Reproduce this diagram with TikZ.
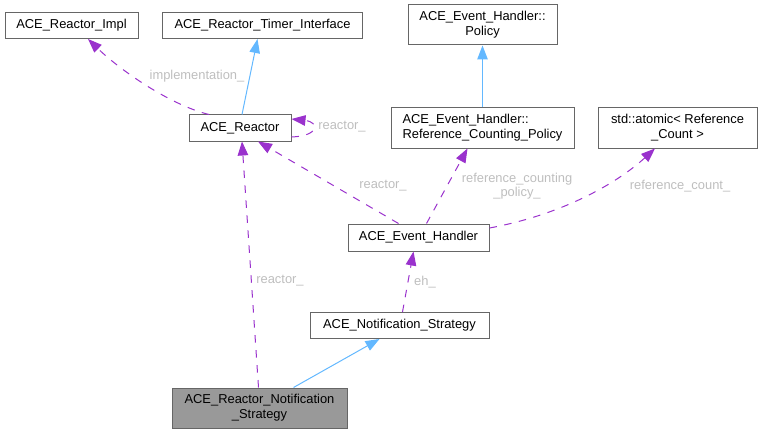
\documentclass[tikz,border=0pt]{standalone}
\usepackage{fontspec}
\setmainfont{Liberation Sans}
\usetikzlibrary{arrows.meta}
\definecolor{edgepurple}{HTML}{9A32CD}
\definecolor{edgeblue}{HTML}{63B8FF}
\definecolor{boxgray}{HTML}{666666}
\definecolor{labelgray}{HTML}{BEBEBE}
\definecolor{fillgray}{HTML}{999999}
\begin{document}
\begin{tikzpicture}[x=1pt,y=-1pt,
  box/.style={draw=boxgray,line width=1pt,fill=white,inner sep=0pt,align=center,
    font=\fontsize{12.9}{15}\selectfont,text=black},
  lbl/.style={inner sep=0pt,align=center,font=\fontsize{12.9}{14}\selectfont,text=labelgray},
  dep/.style={draw=edgepurple,line width=1pt,dash pattern=on 7.5pt off 7.5pt,
    -{Triangle[length=14pt,width=10.5pt]}},
  inh/.style={draw=edgeblue,line width=1pt,-{Triangle[length=14pt,width=10.5pt]}}]
\useasboundingbox (0,0) rectangle (762,433);
% nodes
\node[box,minimum width=133pt,minimum height=26pt] (impl) at (71.5,25.5) {ACE\_Reactor\_Impl};
\node[box,minimum width=200pt,minimum height=26pt] (timer) at (262.5,25.5) {ACE\_Reactor\_Timer\_Interface};
\node[box,minimum width=102pt,minimum height=26pt] (R) at (240,128) {ACE\_Reactor};
\node[box,minimum width=149pt,minimum height=40pt] (policy) at (482.5,25) {ACE\_Event\_Handler::\\Policy};
\node[box,minimum width=183pt,minimum height=40pt,align=left] (RCP) at (482.5,128) {ACE\_Event\_Handler::\\Reference\_Counting\_Policy};
\node[box,minimum width=159pt,minimum height=40pt] (atomic) at (677.5,128) {std::atomic< Reference\\\_Count >};
\node[box,minimum width=141pt,minimum height=27pt] (EH) at (418.5,237.5) {ACE\_Event\_Handler};
\node[box,minimum width=179pt,minimum height=26pt] (NS) at (399.5,325.5) {ACE\_Notification\_Strategy};
\node[box,fill=fillgray,minimum width=175pt,minimum height=40pt] (RNS) at (259.5,408) {ACE\_Reactor\_Notification\\\_Strategy};
% edges
\draw[dep] ([xshift=-31pt]R.north) .. controls (170,105) and (120,70) .. ([xshift=16.5pt]impl.south);
\draw[inh] ([xshift=2pt]R.north) -- ([xshift=-5pt]timer.south);
\draw[dep] ([yshift=-9pt]R.east) .. controls +(28,-1) and +(28,3) .. ([yshift=9pt]R.east);
\draw[dep] ([xshift=-20pt]EH.north) -- ([xshift=18pt]R.south);
\draw[dep] ([xshift=8pt]EH.north) -- ([xshift=-15pt]RCP.south);
\draw[dep] ([yshift=9.5pt]EH.east) .. controls (560,215) and (615,185) .. ([xshift=-22.5pt]atomic.south);
\draw[inh] (RCP.north) -- (policy.south);
\draw[dep] ([xshift=3pt]NS.north) -- ([xshift=-5pt]EH.south);
\draw[inh] ([xshift=34pt]RNS.north) -- ([xshift=-20pt]NS.south);
\draw[dep] ([xshift=-1pt]RNS.north) -- ([xshift=2pt]R.south);
% labels
\node[lbl] (l1) at (197,76) {implementation\_};
\node[lbl] (l2) at (342,127) {reactor\_};
\node[lbl] (l3) at (383,186) {reactor\_};
\node[lbl] (l4) at (517,186) {reference\_counting\\\_policy\_};
\node[lbl] (l5) at (680,186) {reference\_count\_};
\node[lbl] (l6) at (425,282) {eh\_};
\node[lbl] (l7) at (280,281) {reactor\_};
\end{tikzpicture}
\end{document}
